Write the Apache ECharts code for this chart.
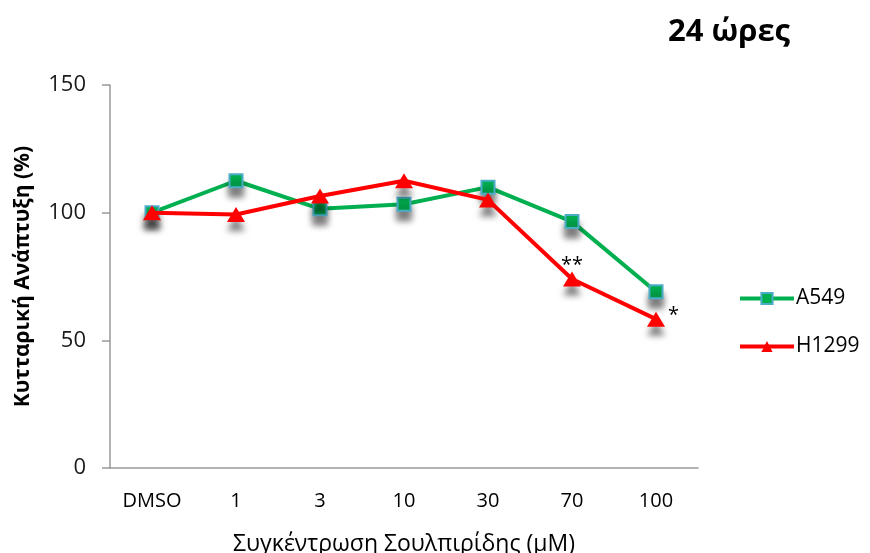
<!DOCTYPE html>
<html>
<head>
<meta charset="utf-8">
<script src="https://cdn.jsdelivr.net/npm/echarts@6/dist/echarts.min.js"></script>
<style>
html,body{margin:0;padding:0;background:#fff;}
#c{width:870px;height:553px;}
</style>
</head>
<body>
<div id="c"></div>
<script>
const categories = ['DMSO', '1', '3', '10', '30', '70', '100'];
const a549 = [100, 112.5, 101.5, 103.3, 110, 96.5, 69];
const h1299 = [100, 99.3, 106.5, 112.5, 105, 74, 58.3];
const h1299Marks = ['', '', '', '', '', '**', '*'];
const yTicks = [0, 50, 100, 150];
const titleText = '24 ώρες';
const xName = 'Συγκέντρωση Σουλπιρίδης (μΜ)';
const yName = 'Κυτταρική Ανάπτυξη (%)';

const FONT = '"Open Sans", "Noto Sans", sans-serif';
const chart = echarts.init(document.getElementById('c'));

const shadow = { shadowBlur: 6, shadowColor: 'rgba(0,0,0,0.5)', shadowOffsetY: 9, shadowOffsetX: 0 };

chart.setOption({
  animation: false,
  backgroundColor: '#fff',
  title: {
    text: titleText,
    left: 668, top: 17,
    padding: 0,
    textStyle: { fontFamily: FONT, fontSize: 31, fontWeight: 'bold', color: '#000' }
  },
  legend: {
    orient: 'vertical',
    left: 738, top: 288,
    padding: 0,
    itemWidth: 54, itemHeight: 14,
    itemGap: 27,
    lineStyle: { width: 4 },
    textStyle: { fontFamily: FONT, fontSize: 21, color: '#000', padding: [0,0,0,-3] },
    data: ['A549', 'H1299']
  },
  grid: { left: 110, right: 172, top: 85, bottom: 85, outerBoundsMode: 'none', containLabel: false },
  xAxis: {
    type: 'category',
    data: categories,
    boundaryGap: true,
    name: xName,
    nameLocation: 'middle',
    nameGap: 65,
    nameTextStyle: { fontFamily: FONT, fontSize: 23, color: '#000', fontWeight: 500 },
    axisLine: { lineStyle: { color: '#999', width: 1.5 } },
    axisTick: { show: false },
    axisLabel: { fontFamily: FONT, fontSize: 20, color: '#000', margin: 23 }
  },
  yAxis: {
    type: 'value',
    min: 0, max: 150, interval: 50,
    name: yName,
    nameLocation: 'middle',
    nameGap: 76,
    nameTextStyle: { fontFamily: FONT, fontSize: 21, fontWeight: 'bold', color: '#000' },
    axisLine: { show: true, lineStyle: { color: '#999', width: 1.5 } },
    axisTick: { show: true, length: 8, lineStyle: { color: '#999', width: 1.5 } },
    splitLine: { show: false },
    axisLabel: { fontFamily: FONT, fontSize: 22, color: '#1a1a1a', margin: 24,
      formatter: v => yTicks.includes(v) ? String(v) : '' }
  },
  series: [
    {
      name: 'A549',
      type: 'line',
      data: a549,
      symbol: 'rect',
      symbolSize: 13,
      lineStyle: { color: '#00B050', width: 4 },
      itemStyle: Object.assign({ color: '#00B050', borderColor: '#4BACC6', borderWidth: 2 }, shadow),
      z: 2
    },
    {
      name: 'H1299',
      type: 'line',
      data: h1299.map((v, i) => ({
        value: v,
        label: h1299Marks[i] ? {
          show: true,
          formatter: h1299Marks[i],
          position: i === 6 ? 'right' : 'top',
          offset: i === 6 ? [-2, -4] : [0, 9],
          fontFamily: FONT, fontSize: 20, color: '#000'
        } : { show: false }
      })),
      symbol: 'triangle',
      symbolSize: [18, 15],
      lineStyle: { color: '#FF0000', width: 4 },
      itemStyle: Object.assign({ color: '#FF0000' }, shadow),
      z: 3
    }
  ]
});
</script>
</body>
</html>
